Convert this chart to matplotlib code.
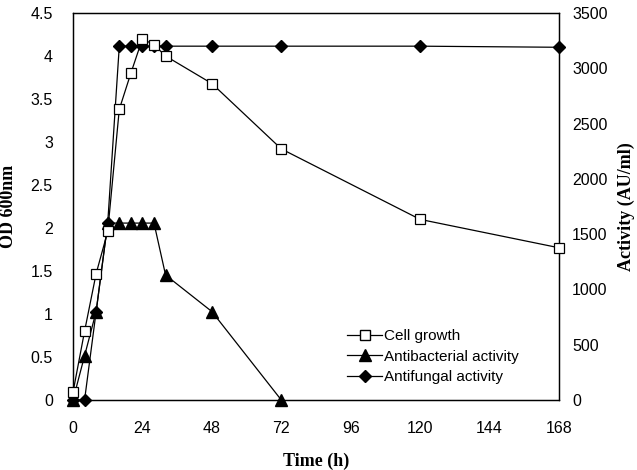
import matplotlib
matplotlib.use("Agg")
import matplotlib.pyplot as plt
from matplotlib.lines import Line2D

# Data
time_cell = [0, 4, 8, 12, 16, 20, 24, 28, 32, 48, 72, 120, 168]
cell_growth = [0.09, 0.80, 1.47, 1.96, 3.38, 3.80, 4.20, 4.13, 4.00, 3.68, 2.92, 2.10, 1.77]

time_act = [0, 4, 8, 12, 16, 20, 24, 28, 32, 48, 72]
antibacterial = [0, 400, 800, 1600, 1600, 1600, 1600, 1600, 1130, 800, 0]

time_fungal = [0, 4, 8, 12, 16, 20, 24, 28, 32, 48, 72, 120, 168]
antifungal = [0, 0, 800, 1600, 3200, 3200, 3200, 3200, 3200, 3200, 3200, 3200, 3190]

x_ticks = [0, 24, 48, 72, 96, 120, 144, 168]
left_ticks = [0, 0.5, 1, 1.5, 2, 2.5, 3, 3.5, 4, 4.5]
left_ticklabels = ["0", "0.5", "1", "1.5", "2", "2.5", "3", "3.5", "4", "4.5"]
right_ticks = [0, 500, 1000, 1500, 2000, 2500, 3000, 3500]

tick_font = "Liberation Sans"
label_font = "Liberation Serif"

fig = plt.figure(figsize=(6.37, 4.70), dpi=100)
ax = fig.add_axes([73/637, 1 - 400/470, (559 - 73)/637, (400 - 13)/470])
ax2 = ax.twinx()

lw = 0.9
ax.plot(time_cell, cell_growth, color="black", lw=lw, marker="s", ms=7,
        mfc="white", mec="black", mew=0.9, zorder=3, clip_on=False)
ax2.plot(time_act, antibacterial, color="black", lw=lw, marker="^", ms=8,
         mfc="black", mec="black", clip_on=False)
ax2.plot(time_fungal, antifungal, color="black", lw=lw, marker="D", ms=6.5,
         mfc="black", mec="black", clip_on=False)

ax.set_zorder(ax2.get_zorder() + 1)
ax.patch.set_visible(False)

ax.set_xlim(0, 168)
ax.set_ylim(0, 4.5)
ax2.set_ylim(0, 3500)
ax.set_xticks(x_ticks)
ax.set_yticks(left_ticks)
ax.set_yticklabels(left_ticklabels)
ax2.set_yticks(right_ticks)

for a in (ax, ax2):
    a.tick_params(length=0, labelsize=11.5)
    for lab in a.get_xticklabels() + a.get_yticklabels():
        lab.set_fontfamily(tick_font)
    for s in a.spines.values():
        s.set_linewidth(0.9)
ax.tick_params(axis="y", pad=14.5)
ax.tick_params(axis="x", pad=15)
ax2.tick_params(axis="y", pad=9.5)

ax.set_xlabel("Time (h)", fontfamily=label_font, fontweight="bold", fontsize=13, labelpad=12)
ax.set_ylabel("OD 600nm", fontfamily=label_font, fontweight="bold", fontsize=13, labelpad=10)
ax2.set_ylabel("Activity (AU/ml)", fontfamily=label_font, fontweight="bold", fontsize=13,
               labelpad=7)

handles = [
    Line2D([], [], color="black", lw=lw, marker="s", ms=7, mfc="white", mec="black"),
    Line2D([], [], color="black", lw=lw, marker="^", ms=8, mfc="black"),
    Line2D([], [], color="black", lw=lw, marker="D", ms=6.5, mfc="black"),
]
labels = ["Cell growth", "Antibacterial activity", "Antifungal activity"]
leg = ax.legend(handles, labels, loc="upper left", bbox_to_anchor=(347/637, 1 - 329/470),
                bbox_transform=fig.transFigure, frameon=False, handlelength=2.3,
                handletextpad=0.1, labelspacing=0.43, borderpad=0, borderaxespad=0,
                prop={"family": tick_font, "size": 11})

fig.savefig("out.png", dpi=100)
